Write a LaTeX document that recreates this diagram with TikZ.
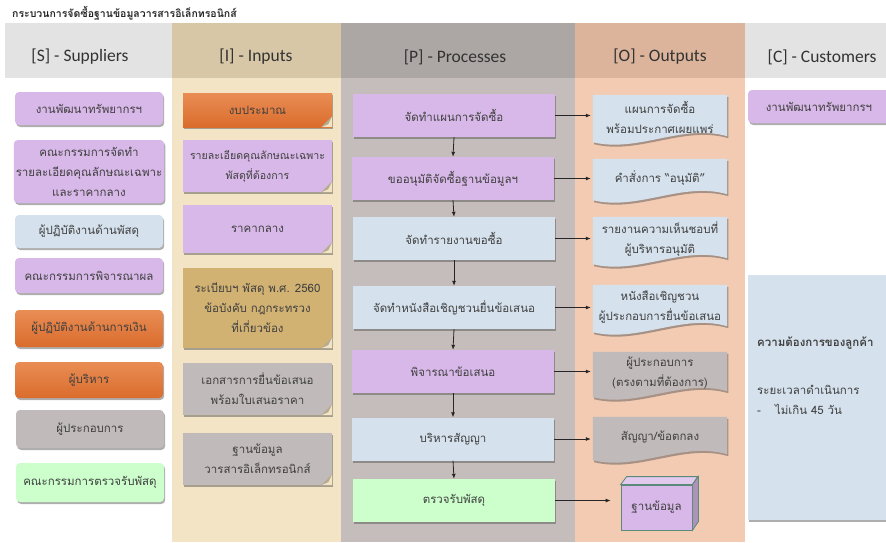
\documentclass[tikz,border=0pt]{standalone}
\usepackage{fontspec}
\setmainfont{Carlito}
\newfontfamily\thaifont[Script=Thai]{Loma}
\usetikzlibrary{shadows,backgrounds,calc,arrows.meta}

\definecolor{txtgray}{HTML}{404040}
\definecolor{headgray}{HTML}{333333}
\definecolor{shead}{HTML}{E3E3E3}
\definecolor{ihead}{HTML}{D7C7A7}
\definecolor{ibody}{HTML}{F2E4C4}
\definecolor{phead}{HTML}{ACA7A5}
\definecolor{pbody}{HTML}{C5BDBB}
\definecolor{ohead}{HTML}{DCB49C}
\definecolor{obody}{HTML}{F2CBB2}
\definecolor{lav}{HTML}{D8B8E8}
\definecolor{lblue}{HTML}{D5E1EC}
\definecolor{orangeA}{HTML}{E98D55}
\definecolor{orangeB}{HTML}{DA6C2C}
\definecolor{gbox}{HTML}{C1BABA}
\definecolor{gcol}{HTML}{CCFFCC}
\definecolor{tan}{HTML}{D2B272}
\definecolor{cubeline}{HTML}{5B8A7A}

\begin{document}
\begin{tikzpicture}[x=1pt, y=-1pt,
    every node/.style={font=\thaifont\fontsize{11.5}{20}\selectfont, text=txtgray, align=center, inner sep=2pt},
    shad/.style={drop shadow={shadow xshift=1.2pt, shadow yshift=-2pt, opacity=.45, fill=black!70}},
    sbox/.style={rounded corners=4pt, minimum width=148pt, shad},
    ibox/.style={minimum width=149pt, shad},
    pbox/.style={minimum width=202pt, minimum height=43pt, shad},
    obox/.style={minimum width=134pt},
    head/.style={font=\rmfamily\fontsize{17.5}{20}\selectfont, text=headgray},
    flow/.style={-{Latex[length=5pt,width=4pt]}, line width=.8pt, black!85}]
    \useasboundingbox (0,0) rectangle (886,542);
    \clip (0,0) rectangle (886,542);
    \begin{scope}[on background layer]
        \fill[shead] (5,23) rectangle (172,78);
        \fill[ihead] (172,23) rectangle (341,78);
        \fill[ibody] (172,78) rectangle (341,542);
        \fill[phead] (341,23) rectangle (575,78);
        \fill[pbody] (341,78) rectangle (575,542);
        \fill[ohead] (575,23) rectangle (745,78);
        \fill[obody] (575,78) rectangle (745,542);
        \fill[shead] (745,23) rectangle (886,78);
    \end{scope}

    \node[anchor=west, font=\thaifont\bfseries\fontsize{10.5}{12}\selectfont, text=black!85] (title) at (10,13) {กระบวนการจัดซื้อฐานข้อมูลวารสารอิเล็กทรอนิกส์};
    \node[head] (hs) at (80,57) {[S] - Suppliers};
    \node[head] (hi) at (256,57) {[I] - Inputs};
    \node[head] (hp) at (455,57) {[P] - Processes};
    \node[head] (ho) at (660,57) {[O] - Outputs};
    \node[head] (hc) at (822,57) {[C] - Customers};

    \node[sbox, fill=lav, minimum height=33pt] (s1) at (89,108.5) {งานพัฒนาทรัพยากรฯ};
    \node[sbox, fill=lav, minimum height=63pt] (s2) at (89,171.5) {คณะกรรมการจัดทำ\\รายละเอียดคุณลักษณะเฉพาะ\\และราคากลาง};
    \node[sbox, fill=lblue, minimum height=33pt] (s3) at (89,231.5) {ผู้ปฏิบัติงานด้านพัสดุ};
    \node[sbox, fill=lav, minimum height=35pt] (s4) at (89,275.5) {คณะกรรมการพิจารณาผล};
    \node[sbox, top color=orangeA, bottom color=orangeB, minimum height=37pt] (s5) at (89,328.5) {ผู้ปฏิบัติงานด้านการเงิน};
    \node[sbox, top color=orangeA, bottom color=orangeB, minimum height=36pt] (s6) at (89,380) {ผู้บริหาร};
    \node[sbox, fill=gbox, minimum height=38pt] (s7) at (90,429) {ผู้ประกอบการ};
    \node[sbox, fill=gcol, minimum height=39pt] (s8) at (90,482.5) {คณะกรรมการตรวจรับพัสดุ};

    \node[ibox, top color=orangeA, bottom color=orangeB, minimum height=34pt] (i1) at (257.5,110) {งบประมาณ};
    \node[ibox, fill=lav, minimum height=52pt, font=\thaifont\fontsize{10.6}{20}\selectfont] (i2) at (257.5,166) {รายละเอียดคุณลักษณะเฉพาะ\\พัสดุที่ต้องการ};
    \node[ibox, fill=lav, minimum height=48pt] (i3) at (257.5,229) {ราคากลาง};
    \node[ibox, fill=tan, minimum height=80pt] (i4) at (257.5,308) {ระเบียบฯ พัสดุ พ.ศ. 2560\\ข้อบังคับ กฎกระทรวง\\ที่เกี่ยวข้อง};
    \node[ibox, fill=gbox, minimum height=52pt] (i5) at (257.5,389) {เอกสารการยื่นข้อเสนอ\\พร้อมใบเสนอราคา};
    \node[ibox, fill=gbox, minimum height=52pt] (i6) at (257.5,459) {ฐานข้อมูล\\วารสารอิเล็กทรอนิกส์};
    \foreach \n in {i1,i2,i3,i4,i5,i6} {
        \fill[ibody] (\n.south east) -- ++(-11,0) -- ++(11,-11) -- cycle;
        \fill[black, opacity=.25] ($(\n.south east)+(-11,0)$) -- ($(\n.south east)+(0,-11)$) -- ($(\n.south east)+(-4,-3)$) -- cycle;
    }

    \node[pbox, fill=lav] (p1) at (454,115.5) {จัดทำแผนการจัดซื้อ};
    \node[pbox, fill=lav] (p2) at (453,178.5) {ขออนุมัติจัดซื้อฐานข้อมูลฯ};
    \node[pbox, fill=lblue] (p3) at (454,238.5) {จัดทำรายงานขอซื้อ};
    \node[pbox, fill=lblue] (p4) at (454,307.5) {จัดทำหนังสือเชิญชวนยื่นข้อเสนอ};
    \node[pbox, fill=lav] (p5) at (453,371.5) {พิจารณาข้อเสนอ};
    \node[pbox, fill=lblue] (p6) at (453,439) {บริหารสัญญา};
    \node[pbox, fill=gcol] (p7) at (454,500.5) {ตรวจรับพัสดุ};

    \node[obox, minimum height=44pt] (o1) at (660,117) {แผนการจัดซื้อ\\พร้อมประกาศเผยแพร่};
    \node[obox, minimum height=38pt] (o2) at (660,178) {คำสั่งการ “อนุมัติ”};
    \node[obox, minimum height=44pt] (o3) at (660,239) {รายงานความเห็นชอบที่\\ผู้บริหารอนุมัติ};
    \node[obox, minimum height=44pt] (o4) at (660,307) {หนังสือเชิญชวน\\ผู้ประกอบการยื่นข้อเสนอ};
    \node[obox, minimum height=42pt] (o5) at (660,373) {ผู้ประกอบการ\\(ตรงตามที่ต้องการ)};
    \node[obox, minimum height=40pt] (o6) at (660,437) {สัญญา/ข้อตกลง};
    \begin{scope}[on background layer]
        \foreach \n/\c in {o1/lblue,o2/lblue,o3/lblue,o4/lblue,o5/gbox,o6/gbox} {
            \fill[\c, shad] (\n.north west) -- (\n.north east) -- ($(\n.south east)+(0,-3)$)
                .. controls ($(\n.south east)+(-45,-16)$) and ($(\n.south west)+(45,14)$) .. ($(\n.south west)+(0,3)$) -- cycle;
        }
    \end{scope}

    \node[fill=lav, draw=cubeline, line width=.8pt, minimum width=71pt, minimum height=45pt] (cube) at (656.5,507.5) {ฐานข้อมูล};
    \draw[cubeline, line width=.8pt, fill=lav!75!white] (cube.north west) -- ++(6,-8) -- ++(71,0) -- (cube.north east) -- cycle;
    \draw[cubeline, line width=.8pt, fill=lav!80!black] (cube.north east) -- ++(6,-8) -- ++(0,45) -- (cube.south east) -- cycle;

    \node[sbox, fill=lav, minimum width=142pt, minimum height=33pt] (c1) at (819,106.5) {งานพัฒนาทรัพยากรฯ};
    \node[fill=lblue, shad, minimum width=146pt, minimum height=245pt] (c2) at (821,397.5) {};
    \node[anchor=west, align=left] (c2text) at (755,376) {\textbf{ความต้องการของลูกค้า}\\[28pt]ระยะเวลาดำเนินการ\\-\hspace{14pt}ไม่เกิน 45 วัน};

    \foreach \a/\b in {p1/p2,p2/p3,p3/p4,p4/p5,p5/p6,p6/p7} \draw[flow] (\a.south) -- (\b.north);
    \foreach \a/\b in {p1/o1,p2/o2,p3/o3,p4/o4,p5/o5,p6/o6} \draw[flow, shorten >=2pt] (\a.east) -- (\a.east -| \b.west);
    \draw[flow, shorten >=10pt] (p7.east) -- (p7.east -| cube.west);
\end{tikzpicture}
\end{document}
